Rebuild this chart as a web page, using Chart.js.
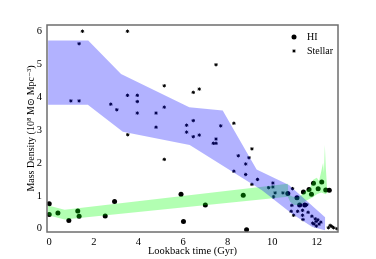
<!DOCTYPE html>
<html>
<head>
<meta charset="utf-8">
<script src="https://cdn.jsdelivr.net/npm/chart.js@4.4.1/dist/chart.umd.min.js"></script>
<style>
  html, body { margin: 0; padding: 0; background: #fff; }
</style>
</head>
<body>
<canvas id="massChart" width="376" height="259"></canvas>
<script>
// ===== data =====
const xTicks = [0, 2, 4, 6, 8, 10, 12];
const yTicks = [0, 1, 2, 3, 4, 5, 6];

// HI mass density (circles)
const hiTime = [0.0, 0.0, 0.39, 0.88, 1.28, 1.34, 2.51, 2.93, 5.91, 6.02, 7.0, 8.70, 8.85,
  10.70, 11.11, 11.23, 11.40, 11.46, 11.65, 11.76, 11.85, 12.06, 12.22, 12.40, 12.56];
const hiDensity = [0.76, 0.43, 0.48, 0.25, 0.54, 0.38, 0.39, 0.83, 1.05, 0.22, 0.72, 1.02, -0.03,
  1.07, 0.94, 0.72, 1.12, 0.72, 1.19, 1.05, 1.38, 1.22, 1.42, 1.18, 1.17];

// stellar mass density (stars)
const stellarTime = [1.49, 3.51, 5.16, 7.48, 6.46, 6.73, 3.52, 5.16, 8.28, 9.09, 10.91, 11.55,
  12.52, 12.60, 12.67, 12.75, 12.90,
  1.34, 0.97, 1.34, 3.51, 3.95, 3.95, 2.76, 3.03, 3.95, 4.79, 4.79, 5.16, 6.16, 6.16, 6.46,
  7.69, 6.46, 6.73, 7.48, 7.36, 7.48, 8.48, 8.96, 8.81, 8.28, 8.81, 9.34, 9.09, 9.84,
  10.03, 10.03, 10.13, 10.06, 10.48, 10.88, 10.85, 10.96, 11.14, 11.36, 11.36, 11.38, 11.61,
  11.78, 11.81, 11.93, 11.97, 12.05, 12.10, 11.98, 12.18, 11.88];
const stellarDensity = [6.01, 6.01, 4.35, 4.99, 4.15, 4.25, 2.86, 2.11, 3.21, 2.43, 1.22, 0.73,
  0.03, 0.10, 0.07, 0.03, 0.00,
  5.63, 3.89, 3.89, 4.06, 4.06, 3.87, 3.79, 3.62, 3.52, 3.52, 3.09, 3.70, 3.15, 2.94, 3.29,
  3.13, 2.80, 2.85, 2.73, 2.60, 2.60, 2.22, 2.16, 1.97, 1.75, 1.65, 1.50, 1.35, 1.25,
  1.39, 1.27, 1.09, 0.97, 1.09, 0.71, 0.53, 0.41, 0.53, 0.56, 0.41, 0.28, 0.50,
  0.38, 0.17, 0.30, 0.22, 0.27, 0.14, 0.08, 0.20, 0.14];

// stellar range band: top edge left->right, bottom edge right->left
const stellarBandTop = [[-0.05, 5.73], [1.75, 5.73], [3.22, 4.71], [6.28, 3.70], [7.78, 3.60],
  [9.30, 1.80], [10.75, 1.33], [12.37, 0.35]];
const stellarBandBottom = [[12.37, -0.05], [11.80, 0.05], [10.90, 0.45], [9.54, 1.17],
  [6.30, 2.55], [3.30, 2.95], [1.73, 3.77], [-0.05, 3.77]];

// HI range band
const hiBandTop = [[-0.05, 0.71], [0.69, 0.58], [10.70, 1.37], [10.72, 1.05], [10.90, 0.98],
  [11.10, 0.95], [11.30, 1.02], [11.50, 1.15], [11.70, 1.25], [11.85, 1.50], [12.00, 1.55],
  [12.10, 1.45], [12.20, 1.75], [12.28, 2.00], [12.32, 1.70], [12.36, 2.55], [12.40, 1.90],
  [12.45, 1.35], [12.47, 1.10]];
const hiBandBottom = [[12.40, 1.05], [12.20, 1.10], [12.00, 1.05], [11.80, 0.95], [11.60, 0.88],
  [11.40, 0.80], [11.20, 0.72], [11.00, 0.72], [10.80, 0.82], [10.70, 0.97], [0.69, 0.28],
  [-0.05, 0.41]];

const toXY = (xs, ys) => xs.map((x, i) => ({ x, y: ys[i] }));
const toPts = arr => arr.map(([x, y]) => ({ x, y }));

const SERIF = "'Liberation Serif', 'DejaVu Serif', serif";
Chart.defaults.font.family = SERIF;
Chart.defaults.font.size = 10;
Chart.defaults.color = '#000';

// frame around the plot area
const frame = {
  id: 'frame',
  afterDraw(chart) {
    const { ctx, chartArea: a } = chart;
    ctx.save();
    ctx.strokeStyle = '#6e6e6e';
    ctx.lineWidth = 1.5;
    ctx.strokeRect(a.left, a.top, a.right - a.left, a.bottom - a.top);
    ctx.restore();
  }
};

// legend in the upper right corner
const cornerLegend = {
  id: 'cornerLegend',
  afterDraw(chart) {
    const { ctx, chartArea: a } = chart;
    const mx = a.right - 44, tx = a.right - 31;
    ctx.save();
    ctx.fillStyle = '#000';
    ctx.strokeStyle = '#000';
    ctx.beginPath();
    ctx.arc(mx, a.top + 12, 2.5, 0, Math.PI * 2);
    ctx.fill();
    Chart.helpers.drawPoint(ctx, { pointStyle: 'star', radius: 1.7, borderWidth: 1 }, mx, a.top + 26);
    ctx.font = '10px ' + SERIF;
    ctx.textBaseline = 'middle';
    ctx.textAlign = 'left';
    ctx.fillText('HI', tx, a.top + 12);
    ctx.fillText('Stellar', tx, a.top + 26);
    ctx.restore();
  }
};

new Chart(document.getElementById('massChart'), {
  type: 'scatter',
  data: {
    datasets: [
      {
        label: 'HI band',
        data: toPts(hiBandTop.concat(hiBandBottom)),
        showLine: true,
        fill: 'shape',
        backgroundColor: 'rgba(0,255,0,0.3)',
        borderWidth: 0,
        pointRadius: 0,
        order: 1
      },
      {
        label: 'Stellar band',
        data: toPts(stellarBandTop.concat(stellarBandBottom)),
        showLine: true,
        fill: 'shape',
        backgroundColor: 'rgba(0,0,255,0.3)',
        borderWidth: 0,
        pointRadius: 0,
        order: 0
      },
      {
        label: 'HI',
        data: toXY(hiTime, hiDensity),
        pointStyle: 'circle',
        pointRadius: 2.5,
        backgroundColor: '#000',
        borderColor: '#000',
        borderWidth: 0,
        order: 2
      },
      {
        label: 'Stellar',
        data: toXY(stellarTime, stellarDensity),
        pointStyle: 'star',
        pointRadius: 1.7,
        borderColor: '#000',
        borderWidth: 1,
        order: 3
      }
    ]
  },
  options: {
    responsive: false,
    animation: false,
    layout: { padding: { top: 25, right: 38, left: 0, bottom: 0 } },
    scales: {
      x: {
        type: 'linear',
        min: -0.1,
        max: 12.95,
        afterBuildTicks: s => { s.ticks = xTicks.map(v => ({ value: v })); },
        afterFit: s => { s.height = 27; },
        grid: { display: false, drawTicks: false },
        border: { display: false },
        ticks: { padding: 4, font: { size: 10.5 } },
        title: { display: true, text: 'Lookback time (Gyr)', padding: { top: 0, bottom: 1 }, font: { size: 10.5 } }
      },
      y: {
        type: 'linear',
        min: -0.1,
        max: 6.2,
        afterBuildTicks: s => { s.ticks = yTicks.map(v => ({ value: v })); },
        afterFit: s => { s.width = 47; },
        grid: { display: false, drawTicks: false },
        border: { display: false },
        ticks: { padding: 5, font: { size: 10.5 } },
        title: { display: true, text: 'Mass Density (10⁸ M⊙ Mpc⁻³)', padding: { top: 25, bottom: 0 }, font: { size: 10 } }
      }
    },
    plugins: {
      legend: { display: false },
      tooltip: { enabled: false }
    }
  },
  plugins: [frame, cornerLegend]
});
</script>
</body>
</html>
